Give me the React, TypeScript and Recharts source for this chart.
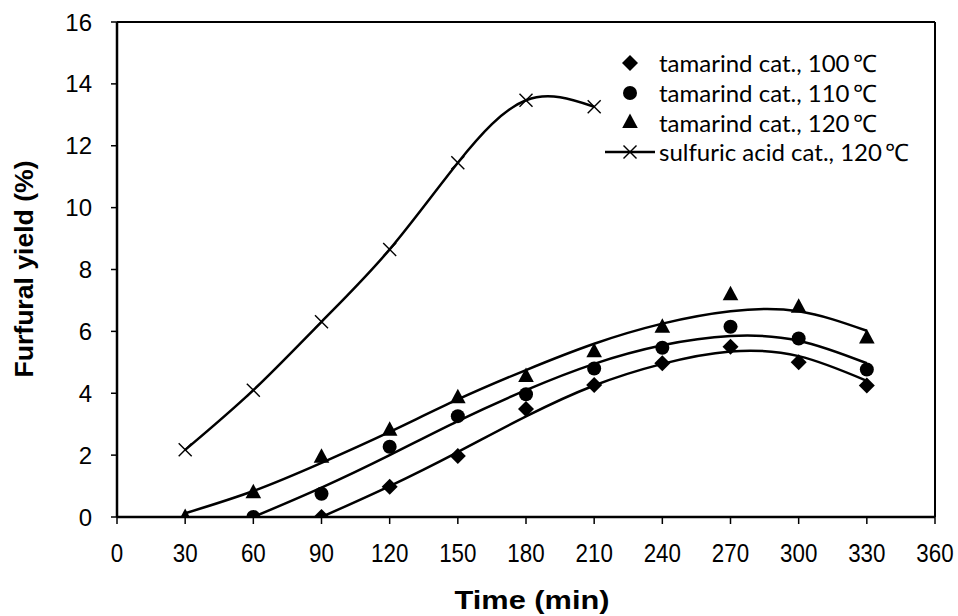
import React from 'react';
import { ComposedChart, Line, Scatter, XAxis, YAxis, Legend, ReferenceLine } from 'recharts';

// ---- data ----
const timeTicks = [0, 30, 60, 90, 120, 150, 180, 210, 240, 270, 300, 330, 360];
const yieldTicks = [0, 2, 4, 6, 8, 10, 12, 14, 16];

const tam100Time = [90, 120, 150, 180, 210, 240, 270, 300, 330];
const tam100Yield = [0, 0.98, 1.97, 3.49, 4.27, 4.97, 5.5, 5.0, 4.25];

const tam110Time = [60, 90, 120, 150, 180, 210, 240, 270, 300, 330];
const tam110Yield = [0, 0.75, 2.27, 3.26, 3.97, 4.8, 5.47, 6.15, 5.77, 4.77];

const tam120Time = [30, 60, 90, 120, 150, 180, 210, 240, 270, 300, 330];
const tam120Yield = [0, 0.8, 1.95, 2.82, 3.87, 4.56, 5.36, 6.15, 7.2, 6.8, 5.8];

const sulfTime = [30, 60, 90, 120, 150, 180, 210];
const sulfYield = [2.17, 4.1, 6.31, 8.65, 11.45, 13.47, 13.26];

// trend curves
const trend100Time = [90, 120, 150, 180, 210, 240, 270, 300, 330];
const trend100Yield = [0, 1.0, 2.1, 3.25, 4.25, 4.95, 5.35, 5.2, 4.4];
const trend110Time = [60, 90, 120, 150, 180, 210, 240, 270, 300, 330];
const trend110Yield = [0, 0.95, 2.0, 3.1, 4.1, 4.95, 5.55, 5.85, 5.7, 4.97];
const trend120Time = [30, 60, 90, 120, 150, 180, 210, 240, 270, 300, 330];
const trend120Yield = [0.12, 0.84, 1.75, 2.75, 3.8, 4.75, 5.6, 6.25, 6.65, 6.65, 6.02];

const seriesNames = [
  'tamarind cat., 100\u2009\u2103',
  'tamarind cat., 110\u2009\u2103',
  'tamarind cat., 120\u2009\u2103',
  'sulfuric acid cat., 120\u2009\u2103',
];

const zip = (xs: number[], ys: number[]) => xs.map((x, i) => ({ x, y: ys[i] }));

const d100 = zip(tam100Time, tam100Yield);
const d110 = zip(tam110Time, tam110Yield);
const d120 = zip(tam120Time, tam120Yield);
const dSulf = zip(sulfTime, sulfYield);
const t100 = zip(trend100Time, trend100Yield);
const t110 = zip(trend110Time, trend110Yield);
const t120 = zip(trend120Time, trend120Yield);

// ---- marker shapes ----
const Diamond = (p: any) => {
  const { cx, cy } = p;
  const s = 8;
  return <polygon points={`${cx},${cy - s} ${cx + s},${cy} ${cx},${cy + s} ${cx - s},${cy}`} fill="#000" />;
};
const Dot = (p: any) => <circle cx={p.cx} cy={p.cy} r={7} fill="#000" />;
const Tri = (p: any) => {
  const { cx, cy } = p;
  return <polygon points={`${cx},${cy - 8.5} ${cx + 7.8},${cy + 6} ${cx - 7.8},${cy + 6}`} fill="#000" />;
};
const XMark = (p: any) => {
  const { cx, cy } = p;
  const s = 6.5;
  if (cx == null || cy == null) return null;
  return (
    <g>
      <line x1={cx - s} y1={cy - s} x2={cx + s} y2={cy + s} stroke="#000" strokeWidth={1.4} />
      <line x1={cx - s} y1={cy + s} x2={cx + s} y2={cy - s} stroke="#000" strokeWidth={1.4} />
    </g>
  );
};

const renderLegend = () => {
  const icon = (i: number) => {
    const c = 25;
    const cy = 15;
    if (i === 0) return <Diamond cx={c} cy={cy} />;
    if (i === 1) return <Dot cx={c} cy={cy} />;
    if (i === 2) return <Tri cx={c} cy={cy} />;
    return (
      <g>
        <line x1={0} y1={cy} x2={50} y2={cy} stroke="#000" strokeWidth={2.5} />
        <XMark cx={c} cy={cy} />
      </g>
    );
  };
  return (
    <div style={{ fontFamily: 'Lato, "Open Sans", sans-serif', fontSize: 24, color: '#000' }}>
      {seriesNames.map((name, i) => (
        <div key={name} style={{ display: 'flex', alignItems: 'center', height: 29.7 }}>
          <svg width={50} height={30} style={{ flex: '0 0 auto' }}>{icon(i)}</svg>
          <span style={{ marginLeft: 4, whiteSpace: 'nowrap' }}>{name}</span>
        </div>
      ))}
    </div>
  );
};

const arial = '"Liberation Sans", Arial, sans-serif';

const XTick = (props: any) => {
  const { x, y, payload } = props;
  return (
    <text
      transform={`translate(${x},${y + 38}) scale(0.86,1)`}
      textAnchor="middle"
      style={{ fontFamily: arial, fontSize: 26, fill: '#000' }}
    >
      {payload.value}
    </text>
  );
};

const YLabel = () => (
  <text
    x={24}
    y={269}
    transform="rotate(-90 24 269)"
    textAnchor="middle"
    dominantBaseline="central"
    textLength={217}
    lengthAdjust="spacingAndGlyphs"
    style={{ fontFamily: arial, fontWeight: 'bold', fontSize: 25, fill: '#000' }}
  >
    Furfural yield (%)
  </text>
);

const XLabel = () => (
  <text
    x={532}
    y={609}
    textAnchor="middle"
    textLength={155}
    lengthAdjust="spacingAndGlyphs"
    style={{ fontFamily: arial, fontWeight: 'bold', fontSize: 25, fill: '#000' }}
  >
    Time (min)
  </text>
);

export default function App() {
  return (
    <div style={{ position: 'absolute', left: 0, top: 0, width: 958, height: 616, background: '#fff' }}>
      <ComposedChart width={958} height={616} margin={{ top: 22, right: 23, left: 0, bottom: 0 }}>
        <XAxis
          type="number"
          dataKey="x"
          domain={[0, 360]}
          ticks={timeTicks}
          interval={0}
          allowDataOverflow
          height={99}
          tickSize={7}
          tickMargin={0}
          axisLine={{ stroke: '#000', strokeWidth: 2.5 }}
          tickLine={{ stroke: '#000', strokeWidth: 1.5 }}
          tick={<XTick />}
          label={<XLabel />}
        />
        <YAxis
          type="number"
          dataKey="y"
          domain={[0, 16]}
          ticks={yieldTicks}
          interval={0}
          allowDataOverflow
          width={117}
          tickSize={6}
          tickMargin={19}
          axisLine={{ stroke: '#000', strokeWidth: 2.5 }}
          tickLine={{ stroke: '#000', strokeWidth: 1.5 }}
          tick={{ fontFamily: arial, fill: '#000', fontSize: 24 }}
          label={<YLabel />}
        />
        <ReferenceLine y={16} stroke="#000" strokeWidth={2} />
        <ReferenceLine x={360} stroke="#000" strokeWidth={2} />

        <Line data={t100} dataKey="y" type="natural" stroke="#000" strokeWidth={2.5} dot={false} activeDot={false} legendType="none" isAnimationActive={false} />
        <Line data={t110} dataKey="y" type="natural" stroke="#000" strokeWidth={2.5} dot={false} activeDot={false} legendType="none" isAnimationActive={false} />
        <Line data={t120} dataKey="y" type="natural" stroke="#000" strokeWidth={2.5} dot={false} activeDot={false} legendType="none" isAnimationActive={false} />

        <Scatter name={seriesNames[0]} data={d100} fill="#000" shape={<Diamond />} isAnimationActive={false} />
        <Scatter name={seriesNames[1]} data={d110} fill="#000" shape={<Dot />} isAnimationActive={false} />
        <Scatter name={seriesNames[2]} data={d120} fill="#000" shape={<Tri />} isAnimationActive={false} />
        <Line
          name={seriesNames[3]}
          data={dSulf}
          dataKey="y"
          type="natural"
          stroke="#000"
          strokeWidth={2.5}
          dot={(props: any) => <XMark key={`sx-${props.index}`} cx={props.cx} cy={props.cy} />}
          activeDot={false}
          isAnimationActive={false}
        />

        <Legend
          layout="vertical"
          align="center"
          verticalAlign="middle"
          content={renderLegend}
          wrapperStyle={{ position: 'absolute', left: 605, top: 48, width: 340, height: 120 }}
        />
      </ComposedChart>
    </div>
  );
}
